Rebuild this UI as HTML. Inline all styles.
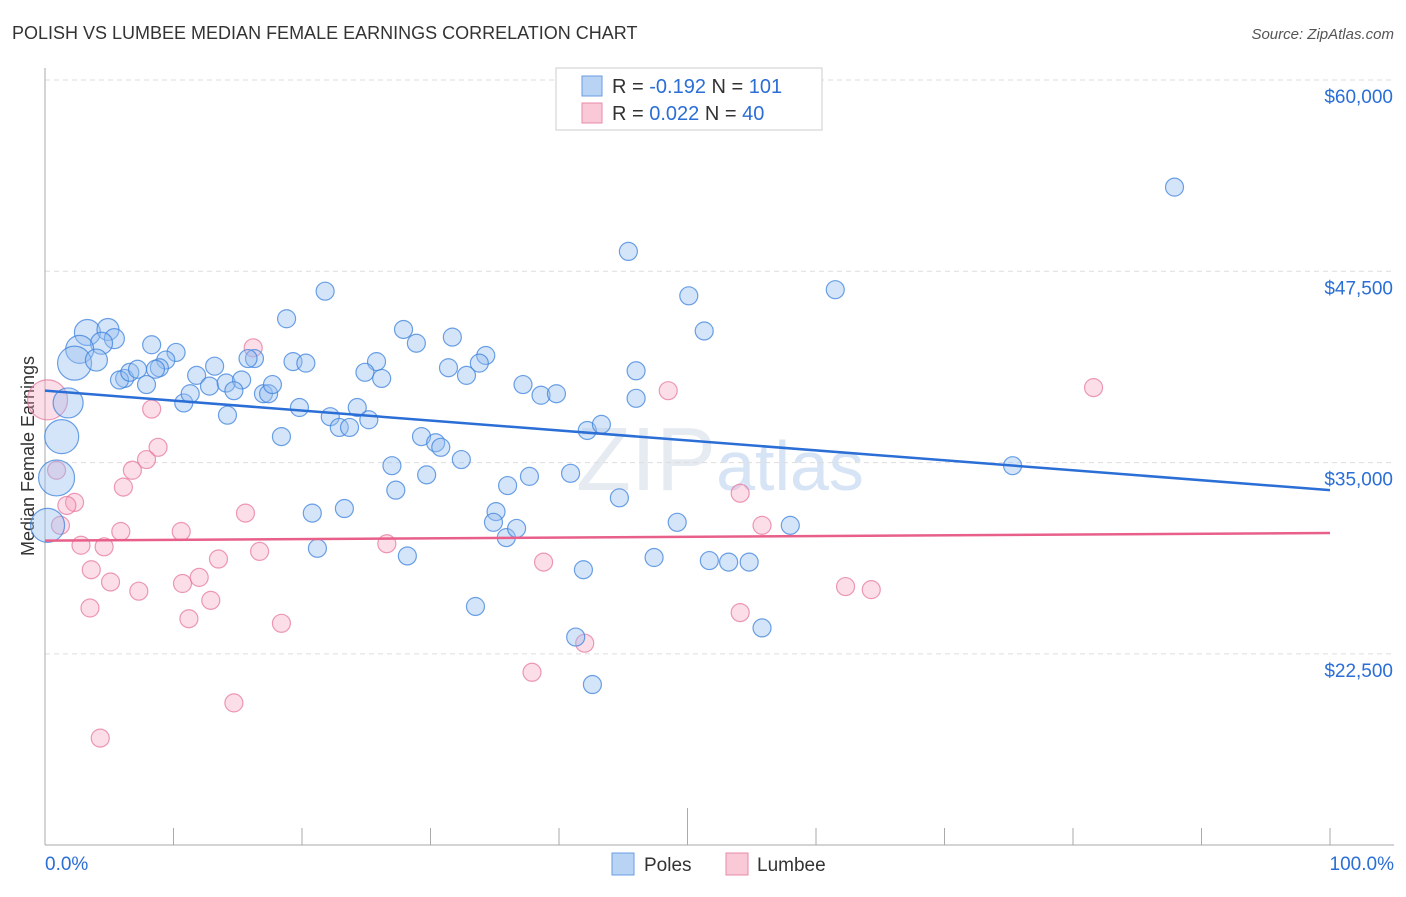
<!DOCTYPE html>
<html><head><meta charset="utf-8"><style>
body{margin:0;background:#fff;font-family:"Liberation Sans",sans-serif}
svg text{font-family:"Liberation Sans",sans-serif}
</style></head><body>
<svg id="chart" width="1406" height="892" xmlns="http://www.w3.org/2000/svg">
<text x="12" y="39" font-size="18" fill="#333">POLISH VS LUMBEE MEDIAN FEMALE EARNINGS CORRELATION CHART</text>
<text x="1394" y="39" font-size="15" fill="#555" text-anchor="end" font-style="italic">Source: ZipAtlas.com</text>
<text transform="translate(34,456) rotate(-90)" font-size="18" fill="#333" text-anchor="middle">Median Female Earnings</text>
<text x="720" y="490" font-size="90" fill="#e6ebf2" text-anchor="middle" font-family="Liberation Serif">ZIP<tspan fill="#d6e4f5" font-family="Liberation Sans" font-size="70">atlas</tspan></text>
<g id="grid"></g><g id="axes"></g><g id="pinkPts"></g><g id="bluePts"></g><g id="lines"></g>
<g>
<rect x="556" y="68" width="266" height="62" fill="#fff" stroke="#ccc"/>
<rect x="582" y="76" width="20" height="20" fill="#b9d3f5" stroke="#6a9be0"/>
<rect x="582" y="103" width="20" height="20" fill="#f9c9d8" stroke="#e88aa8"/>
<text x="612" y="93" font-size="20" fill="#333">R = <tspan fill="#2a6ed6">-0.192</tspan>   N = <tspan fill="#2a6ed6">101</tspan></text>
<text x="612" y="120" font-size="20" fill="#333">R = <tspan fill="#2a6ed6"> 0.022</tspan>   N = <tspan fill="#2a6ed6"> 40</tspan></text>
</g>
<g>
<rect x="612" y="853" width="22" height="22" fill="#b9d3f5" stroke="#6a9be0"/>
<text x="644" y="871" font-size="19" fill="#333">Poles</text>
<rect x="726" y="853" width="22" height="22" fill="#f9c9d8" stroke="#e88aa8"/>
<text x="757" y="871" font-size="19" fill="#333">Lumbee</text>
</g>
</svg>
<script>
const yTicks=[60000,47500,35000,22500];
const yTickLabels=["$60,000","$47,500","$35,000","$22,500"];
const xTickLabels=["0.0%","100.0%"];
const polesX=[87.9,45.4,21.8,50.1,61.5,18.8,51.3,27.9,31.7,28.9,34.3,33.8,31.4,32.8,25.8,24.9,26.2,19.3,20.3,16.3,15.8,13.2,11.8,10.2,8.3,9.4,8.9,10.8,11.3,12.8,14.1,15.3,14.7,14.2,17.0,17.4,17.7,19.8,18.4,22.2,22.9,23.7,24.3,25.2,27.0,27.3,28.2,29.3,30.4,30.8,32.4,29.7,37.2,38.6,39.8,40.9,42.2,43.3,44.7,46.0,46.0,36.0,35.1,34.9,35.9,36.7,37.7,33.5,41.3,42.6,41.9,47.4,49.2,51.7,53.2,54.8,55.8,58.0,75.3,20.8,23.3,21.2,3.3,4.9,5.4,4.4,2.7,2.3,4.0,1.8,1.3,0.9,0.2,6.2,5.8,6.6,7.2,7.9,8.6];
const polesY=[53000,48800,46200,45900,46300,44400,43600,43700,43200,42800,42000,41500,41200,40700,41600,40900,40500,41600,41500,41800,41800,41300,40700,42200,42700,41700,41200,38900,39500,40000,40200,40400,39700,38100,39500,39500,40100,38600,36700,38000,37300,37300,38600,37800,34800,33200,28900,36700,36300,36000,35200,34200,40100,39400,39500,34300,37100,37500,32700,41000,39200,33500,31800,31100,30100,30700,34100,25600,23600,20500,28000,28800,31100,28600,28500,28500,24200,30900,34800,31700,32000,29400,43500,43700,43100,42800,42400,41500,41700,38900,36700,34000,30900,40500,40400,40900,41100,40100,41100];
const polesSize=[9,9,9,9,9,9,9,9,9,9,9,9,9,9,9,9,9,9,9,9,9,9,9,9,9,9,9,9,9,9,9,9,9,9,9,9,9,9,9,9,9,9,9,9,9,9,9,9,9,9,9,9,9,9,9,9,9,9,9,9,9,9,9,9,9,9,9,9,9,9,9,9,9,9,9,9,9,9,9,9,9,9,13,11,10,11,14,17,11,15,17,18,17,9,9,9,9,9,9];
const lumbeeX=[16.2,48.5,81.6,8.3,8.8,7.9,6.8,6.1,2.3,1.7,0.9,1.2,15.6,10.6,5.9,2.8,4.6,16.7,13.5,26.6,3.6,5.1,7.3,10.7,12.0,12.9,11.2,3.5,18.4,38.8,54.1,55.8,62.3,64.3,54.1,42.0,37.9,14.7,4.3,0.2];
const lumbeeY=[42500,39700,39900,38500,36000,35200,34500,33400,32400,32200,34500,30900,31700,30500,30500,29600,29500,29200,28700,29700,28000,27200,26600,27100,27500,26000,24800,25500,24500,28500,33000,30900,26900,26700,25200,23200,21300,19300,17000,39100];
const lumbeeSize=[9,9,9,9,9,9,9,9,9,9,9,9,9,9,9,9,9,9,9,9,9,9,9,9,9,9,9,9,9,9,9,9,9,9,9,9,9,9,9,20];
const polesTrend=[39700,33200];
const lumbeeTrend=[29900,30400];
const NS="http://www.w3.org/2000/svg";
const X0=45,X1=1330,Y60=80,PXPER=65.34,YB=845;
const xs=p=>X0+(X1-X0)*p/100;
const ys=v=>Y60+(60000-v)/PXPER;
function mk(tag,attrs,parent){const e=document.createElementNS(NS,tag);for(const k in attrs)e.setAttribute(k,attrs[k]);document.getElementById(parent).appendChild(e);return e;}
yTicks.forEach((t,i)=>{
 const l=mk('line',{x1:X0,x2:1394,y1:ys(t),y2:ys(t),stroke:'#ddd','stroke-dasharray':'5,4'},'grid');
 
 
 const tx=mk('text',{x:1393,y:ys(t)+23,'font-size':19,fill:'#2a6ed6','text-anchor':'end'},'axes');
 tx.textContent=yTickLabels[i];
 
 
});
const ya=mk('line',{x1:X0,x2:X0,y1:68,y2:YB,stroke:'#aaa'},'axes');


const xa=mk('line',{x1:X0,x2:1394,y1:YB,y2:YB,stroke:'#aaa'},'axes');


for(let i=1;i<=10;i++){
 const t=mk('line',{x1:xs(i*10),x2:xs(i*10),y1:i==5?808:828,y2:YB,stroke:'#aaa'},'axes');
 
 
}
[[0,'start',45],[100,'end',1394]].forEach((a,i)=>{
 const t=mk('text',{x:a[2],y:870,'font-size':19,fill:'#2a6ed6','text-anchor':a[1]},'axes');
 t.textContent=xTickLabels[i];
 
 
});
lumbeeX.forEach((x,i)=>{
 const c=mk('circle',{cx:xs(x),cy:ys(lumbeeY[i]),r:lumbeeSize[i],fill:'rgba(245,160,190,0.35)',stroke:'rgba(230,120,160,0.75)','stroke-width':1.2},'pinkPts');
 
 
});
polesX.forEach((x,i)=>{
 const c=mk('circle',{cx:xs(x),cy:ys(polesY[i]),r:polesSize[i],fill:'rgba(150,190,240,0.4)',stroke:'rgba(60,130,220,0.75)','stroke-width':1.2},'bluePts');
 
 
});
const bl=mk('line',{x1:xs(0),x2:xs(100),y1:ys(polesTrend[0]),y2:ys(polesTrend[1]),stroke:'#2a6ed6','stroke-width':2.5},'lines');


const pl=mk('line',{x1:xs(0),x2:xs(100),y1:ys(lumbeeTrend[0]),y2:ys(lumbeeTrend[1]),stroke:'#e8608a','stroke-width':2.5},'lines');


</script>
</body></html>
